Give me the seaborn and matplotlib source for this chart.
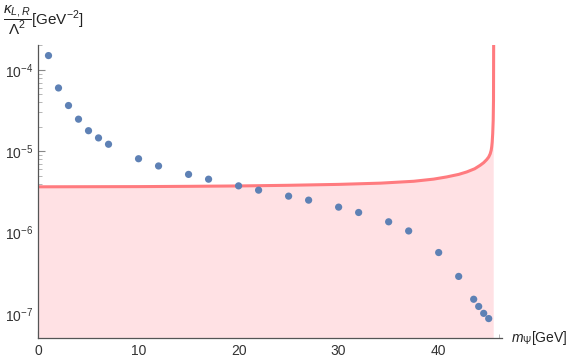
import matplotlib
matplotlib.use("Agg")
import matplotlib.pyplot as plt
import matplotlib.ticker as mticker
import numpy as np
import pandas as pd
import seaborn as sns

# ---------------------------------------------------------------------------
# data
# ---------------------------------------------------------------------------
mass = [1, 2, 3, 4, 5, 6, 7, 10, 12, 15, 17, 20, 22, 25, 27, 30, 32, 35, 37,
        40, 42, 43.5, 44, 44.5, 45]
kappa = [1.5e-4, 6.0e-5, 3.65e-5, 2.48e-5, 1.79e-5, 1.46e-5, 1.22e-5, 8.1e-6,
         6.6e-6, 5.2e-6, 4.54e-6, 3.76e-6, 3.33e-6, 2.81e-6, 2.51e-6, 2.06e-6,
         1.77e-6, 1.36e-6, 1.05e-6, 5.7e-7, 2.9e-7, 1.52e-7, 1.24e-7, 1.02e-7,
         8.8e-8]

# bound curve (red line), steep rise near m = M_Z/2
bound_m = [0, 5, 10, 15, 20, 25, 30, 34.2, 37.5, 39.5, 40.8, 42.0, 42.8,
           43.6, 44.15, 44.5, 44.8, 45.0, 45.15, 45.25, 45.3, 45.35, 45.4,
           45.45, 45.48, 45.5]
bound_k = [3.66e-6, 3.67e-6, 3.68e-6, 3.71e-6, 3.75e-6, 3.82e-6, 3.92e-6,
           4.06e-6, 4.28e-6, 4.55e-6, 4.84e-6, 5.2e-6, 5.57e-6, 6.1e-6,
           6.73e-6, 7.25e-6, 7.9e-6, 8.5e-6, 9.3e-6, 1.03e-5, 1.13e-5,
           1.3e-5, 1.64e-5, 2.4e-5, 4.2e-5, 3.0e-4]

points = pd.DataFrame({"m": mass, "k": kappa})
bound = pd.DataFrame({"m": bound_m, "k": bound_k})

# ---------------------------------------------------------------------------
# plot
# ---------------------------------------------------------------------------
sns.set_style("ticks")
plt.rcParams["font.family"] = ["Liberation Sans", "DejaVu Sans"]
plt.rcParams["mathtext.fontset"] = "custom"
plt.rcParams["mathtext.rm"] = "Liberation Sans"
plt.rcParams["mathtext.it"] = "Liberation Sans:italic"

fig = plt.figure(figsize=(5.72, 3.63), dpi=100)
ax = fig.add_axes([0.0673, 0.0689, 0.8098, 0.807])

ax.fill_between(bound["m"], 1e-9, bound["k"], color="#ffe1e4", lw=0, zorder=1)
sns.lineplot(data=bound, x="m", y="k", ax=ax, color="#ff7b7f", lw=2.2,
             zorder=2, sort=False)
sns.scatterplot(data=points, x="m", y="k", ax=ax, color="#5e81b5", s=27,
                edgecolor="none", zorder=3)

ax.set_yscale("log")
ax.set_xlim(0, 46.3)
ax.set_ylim(5.08e-8, 2.02e-4)

ax.xaxis.set_major_locator(mticker.MultipleLocator(10))
ax.xaxis.set_minor_locator(mticker.MultipleLocator(2))
ax.yaxis.set_major_locator(mticker.LogLocator(base=10, numticks=10))
ax.yaxis.set_minor_locator(mticker.LogLocator(base=10, subs=np.arange(2, 10),
                                              numticks=20))
ax.yaxis.set_minor_formatter(mticker.NullFormatter())

ax.tick_params(which="major", direction="in", length=5, width=0.8,
               color="#888888", labelsize=10, labelcolor="#333333", pad=4)
ax.tick_params(which="minor", direction="in", length=3, width=0.6,
               color="#aaaaaa")

sns.despine(ax=ax)
for side in ["left", "bottom"]:
    ax.spines[side].set_color("#555555")
    ax.spines[side].set_linewidth(0.9)

ax.set_xlabel("")
ax.set_ylabel("")
fig.text(0.005, 0.99, r"$\dfrac{\kappa_{L,R}}{\Lambda^2}$[GeV$^{-2}$]",
         ha="left", va="top", fontsize=11, color="#222222")
fig.text(0.894, 0.069, r"$m_\Psi$[GeV]", ha="left", va="center",
         fontsize=10, color="#222222")

fig.savefig("out.png", dpi=100)
